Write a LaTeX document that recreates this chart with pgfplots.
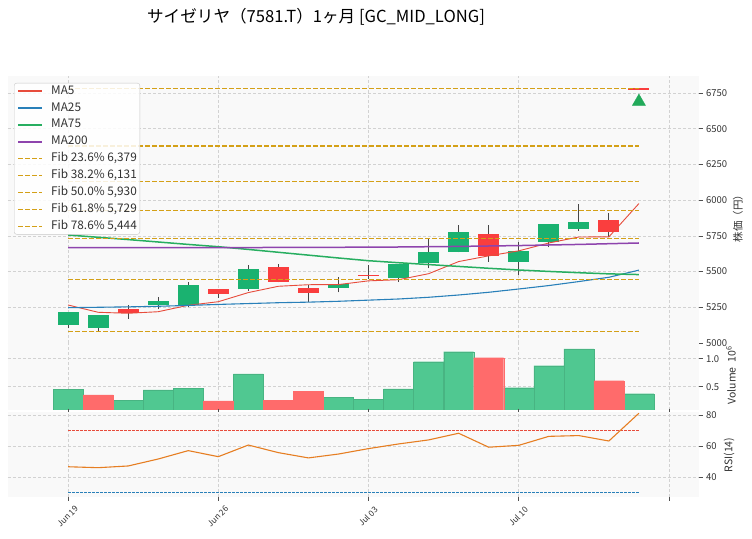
\documentclass[border=0pt]{standalone}
\usepackage{pgfplots}
\pgfplotsset{compat=1.18}
\usepackage{pgfplotstable}
\usepackage{fontspec}
\setmainfont{Noto Sans CJK JP}

\definecolor{candleup}{RGB}{26,178,112}
\definecolor{candledn}{RGB}{250,62,62}
\definecolor{volup}{RGB}{80,200,145}
\definecolor{voldn}{RGB}{255,107,107}
\definecolor{wickc}{RGB}{70,70,70}
\definecolor{ma5c}{RGB}{231,76,60}
\definecolor{ma25c}{RGB}{41,128,185}
\definecolor{ma75c}{RGB}{39,174,96}
\definecolor{ma200c}{RGB}{142,68,173}
\definecolor{fibc}{RGB}{212,160,23}
\definecolor{rsic}{RGB}{230,126,34}
\definecolor{panelbg}{RGB}{249,249,249}
\definecolor{gridc}{RGB}{210,210,210}
\definecolor{tickc}{RGB}{80,80,80}
\definecolor{labelc}{RGB}{50,50,50}
\definecolor{legendc}{RGB}{200,200,200}
\definecolor{sigc}{RGB}{34,170,90}

% OHLC, rising candles
\pgfplotstableread{
i o h l c
0 5128 5217 5103 5217
1 5107 5196 5080 5196
3 5268 5320 5236 5294
4 5268 5427 5254 5406
6 5380 5546 5364 5518
9 5387 5460 5355 5411
11 5457 5555 5429 5555
12 5562 5733 5523 5637
13 5635 5826 5635 5777
15 5569 5709 5476 5644
16 5709 5833 5670 5833
17 5801 5973 5786 5847
}\upcandles

% OHLC, falling candles
\pgfplotstableread{
i o h l c
2 5238 5266 5168 5208
5 5378 5380 5315 5341
7 5534 5553 5425 5425
8 5385 5406 5287 5352
10 5478 5546 5448 5471
14 5765 5826 5569 5611
18 5861 5908 5740 5779
19 6783 6783 6776 6776
}\downcandles

% moving averages
\pgfplotstableread{
i ma5 ma25 ma75 ma200
0 5266 5247 5756 5667
1 5215 5250 5740 5667
2 5208 5253 5724 5667
3 5219 5257 5707 5667
4 5264 5263 5690 5668
5 5289 5270 5674 5668
6 5353 5276 5655 5668
7 5397 5282 5635 5669
8 5408 5286 5615 5669
9 5409 5292 5595 5670
10 5435 5300 5576 5671
11 5443 5308 5562 5672
12 5485 5320 5549 5674
13 5570 5336 5536 5676
14 5610 5355 5523 5679
15 5645 5378 5511 5682
16 5700 5402 5501 5686
17 5742 5430 5492 5690
18 5743 5460 5484 5695
19 5976 5510 5479 5700
}\mas

% volume (millions), up days
\pgfplotstableread{
i v
0 0.454
2 0.262
3 0.441
4 0.471
6 0.727
9 0.310
10 0.280
11 0.459
12 0.946
13 1.125
15 0.482
16 0.875
17 1.173
19 0.375
}\volup

% volume (millions), down days
\pgfplotstableread{
i v
1 0.352
5 0.245
7 0.262
8 0.423
14 1.018
18 0.607
}\voldn

% RSI(14)
\pgfplotstableread{
i r
0 46.6
1 46.0
2 47.1
3 51.6
4 57.0
5 53.1
6 60.6
7 55.7
8 52.3
9 54.8
10 58.3
11 61.3
12 63.9
13 68.2
14 59.2
15 60.4
16 66.2
17 66.7
18 63.2
19 81.1
}\rsitab

\pgfplotsset{
  panel/.style={
    scale only axis, width=691pt, xmin=-2, xmax=21, anchor=south west,
    axis background/.style={fill=panelbg},
    axis line style={draw=none},
    grid=major,
    major grid style={draw=gridc, dash pattern=on 3pt off 2pt, line width=0.6pt},
    xtick={0,5,10,15,20},
    ytick pos=right, yticklabel pos=right,
    tick align=outside, major tick length=3.5pt,
    tick style={draw=tickc, line width=0.7pt},
    yticklabel style={font=\fontsize{9.5}{10}\selectfont, text=labelc, xshift=0pt},
    /pgf/number format/assume math mode=true,
    /pgf/number format/1000 sep={},
    scaled y ticks=false,
  },
  fibline/.style={fibc, line width=1.1pt, dash pattern=on 4.5pt off 2.5pt,
    legend image post style={line width=1.4pt}},
  wick/.style={forget plot, draw=none, mark=none,
    error bars/.cd, y dir=plus, y explicit, error mark=none,
    error bar style={draw=wickc, line width=0.9pt, solid}},
  body/.style={forget plot, draw=none, mark=none,
    error bars/.cd, y dir=both, y explicit, error mark=none,
    error bar style={draw=#1, line width=21pt, solid}},
}

\begin{document}
\begin{tikzpicture}
\path[use as bounding box] (0,0) rectangle (752pt,538pt);

\node[font=\fontsize{16.6}{18}\selectfont, text=black] at (316pt,521pt)
  {サイゼリヤ（7581.T）1ヶ月 [GC\_MID\_LONG]};

% ---------------- price panel ----------------
\begin{axis}[panel, at={(8pt,195pt)}, height=267pt,
  ymin=5000, ymax=6869, ytick={5000,5250,...,6750},
  xticklabels={}, x tick style={draw=none},
  legend cell align=left,
  legend style={at={(0.0087,0.974)}, anchor=north west,
    font=\fontsize{11.8}{13}\selectfont, text=labelc,
    draw=legendc, fill=white, fill opacity=0.85, text opacity=1,
    rounded corners=2.5pt, inner xsep=3pt, inner ysep=2.5pt,
    row sep=5.9pt,
    nodes={inner sep=0pt, text height=8.5pt, text depth=2.5pt},
    /tikz/every odd column/.append style={column sep=8pt}},
  legend image code/.code={\draw[#1] (0pt,0pt) -- (24pt,0pt);},
]
% wicks
\addplot[wick] table[x=i, y=l, y error expr=\thisrow{h}-\thisrow{l}] {\upcandles};
\addplot[wick] table[x=i, y=l, y error expr=\thisrow{h}-\thisrow{l}] {\downcandles};
% bodies
\addplot[body=candleup]
  table[x=i, y expr=(\thisrow{o}+\thisrow{c})/2, y error expr=abs(\thisrow{c}-\thisrow{o})/2] {\upcandles};
\addplot[body=candledn]
  table[x=i, y expr=(\thisrow{o}+\thisrow{c})/2, y error expr=abs(\thisrow{c}-\thisrow{o})/2] {\downcandles};

% moving averages
\addplot[draw=ma5c, line width=0.9pt, mark=none, legend image post style={line width=1.3pt}] table[x=i, y=ma5] {\mas};
\addlegendentry{MA5}
\addplot[draw=ma25c, line width=1.1pt, mark=none, legend image post style={line width=1.4pt}] table[x=i, y=ma25] {\mas};
\addlegendentry{MA25}
\addplot[draw=ma75c, line width=1.5pt, mark=none, legend image post style={line width=2pt}] table[x=i, y=ma75] {\mas};
\addlegendentry{MA75}
\addplot[draw=ma200c, line width=1.5pt, mark=none, legend image post style={line width=2pt}] table[x=i, y=ma200] {\mas};
\addlegendentry{MA200}

% Fibonacci levels
\addplot[fibline] coordinates {(0,6379) (19,6379)};
\addlegendentry{Fib 23.6\% 6,379}
\addplot[fibline] coordinates {(0,6131) (19,6131)};
\addlegendentry{Fib 38.2\% 6,131}
\addplot[fibline] coordinates {(0,5930) (19,5930)};
\addlegendentry{Fib 50.0\% 5,930}
\addplot[fibline] coordinates {(0,5729) (19,5729)};
\addlegendentry{Fib 61.8\% 5,729}
\addplot[fibline] coordinates {(0,5444) (19,5444)};
\addlegendentry{Fib 78.6\% 5,444}
\addplot[fibline, forget plot] coordinates {(0,6780) (19,6780)};
\addplot[fibline, forget plot] coordinates {(0,5080) (19,5080)};

% signal marker
\addplot[forget plot, only marks, mark=triangle*, mark size=7.5pt,
  mark options={fill=sigc, draw=sigc}] coordinates {(19,6690)};
\end{axis}

% ---------------- volume panel ----------------
\begin{axis}[panel, at={(8pt,128pt)}, height=67pt,
  ymin=0.084, ymax=1.28, ytick={0.5,1.0}, yticklabels={0.5,1.0},
  xticklabels={}, x tick style={draw=none},
  ybar, bar width=30pt, bar shift=0pt,
]
\addplot[fill=volup, draw=volup!90!black, line width=0.3pt] table[x=i, y=v] {\volup};
\addplot[fill=voldn, draw=voldn, line width=0.3pt] table[x=i, y=v] {\voldn};
\end{axis}

% ---------------- RSI panel ----------------
\begin{axis}[panel, at={(8pt,41pt)}, height=85pt,
  ymin=27.1, ymax=81.9, ytick={40,60,80},
  xticklabels={Jun 19, Jun 26, Jul 03, Jul 10, {}},
  xticklabel style={font=\fontsize{8.3}{9}\selectfont, text=labelc,
    xshift=-0.5pt, yshift=-16pt, rotate=45, anchor=center},
]
\addplot[draw=ma5c, line width=0.6pt, dash pattern=on 2.5pt off 1.5pt] coordinates {(0,70) (19,70)};
\addplot[draw=ma25c, line width=0.6pt, dash pattern=on 2.5pt off 1.5pt] coordinates {(0,30) (19,30)};
\addplot[draw=rsic, line width=1.1pt, mark=none] table[x=i, y=r] {\rsitab};
\end{axis}

% axis labels
\node[rotate=90, font=\fontsize{10.5}{12}\selectfont, text=labelc] at (738pt,322pt) {株価（円）};
\node[rotate=90, font=\fontsize{10.5}{12}\selectfont, text=labelc, anchor=west] at (731pt,130pt) {Volume\ \ 10\textsuperscript{6}};
\node[rotate=90, font=\fontsize{10.5}{12}\selectfont, text=labelc] at (729pt,83pt) {RSI(14)};
\end{tikzpicture}
\end{document}
